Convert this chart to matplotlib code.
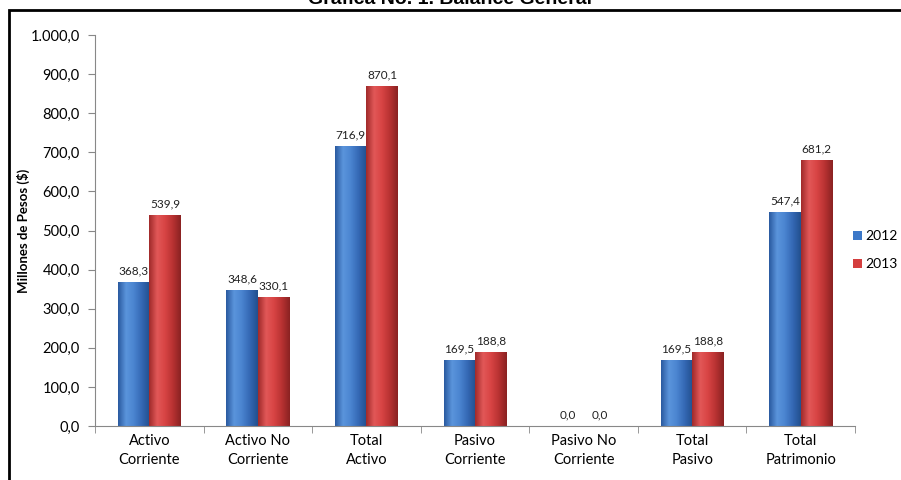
import matplotlib.pyplot as plt
import numpy as np
from matplotlib.patches import Rectangle
from matplotlib.colors import LinearSegmentedColormap

categorias = ['Activo\nCorriente', 'Activo No\nCorriente', 'Total\nActivo', 'Pasivo\nCorriente',
              'Pasivo No\nCorriente', 'Total\nPasivo', 'Total\nPatrimonio']
valores_2012 = [368.3, 348.6, 716.9, 169.5, 0.0, 169.5, 547.4]
valores_2013 = [539.9, 330.1, 870.1, 188.8, 0.0, 188.8, 681.2]
anios = ['2012', '2013']

plt.rcParams['font.family'] = ['Lato', 'DejaVu Sans']

fig = plt.figure(figsize=(9.01, 4.8), dpi=100)
ax = fig.add_axes([95/901, 1 - 426/480, 760/901, 391/480])

x = np.arange(len(categorias))
w = 0.29

blue_cmap = LinearSegmentedColormap.from_list('b', ['#2a5aa0', '#5b95dc', '#4a84d0', '#3468b4', '#22508e'])
red_cmap = LinearSegmentedColormap.from_list('r', ['#a02a2a', '#e25858', '#d84444', '#b83232', '#8a2222'])

b1 = ax.bar(x - w/2, valores_2012, w, color='#3c78c8', edgecolor='none', label=anios[0])
b2 = ax.bar(x + w/2, valores_2013, w, color='#d43e3e', edgecolor='none', label=anios[1])

# degradado horizontal dentro de cada barra
grad = np.linspace(0, 1, 64).reshape(1, -1)
for bars, cm in ((b1, blue_cmap), (b2, red_cmap)):
    for p in bars:
        if p.get_height() <= 0:
            continue
        x0, y0 = p.get_x(), p.get_y()
        im = ax.imshow(grad, cmap=cm, aspect='auto', extent=(x0, x0 + p.get_width(), y0, y0 + p.get_height()),
                       zorder=2, interpolation='bicubic')
        im.set_clip_path(p)

for bars in (b1, b2):
    for p in bars:
        h = p.get_height()
        ax.text(p.get_x() + p.get_width()/2, h + 14,
                f'{h:,.1f}'.replace('.', ','), ha='center', va='bottom', fontsize=8.5, color='#222222')

ax.set_xlim(-0.5, len(categorias) - 0.5)
ax.set_ylim(0, 1000)
ax.set_yticks(np.arange(0, 1001, 100))
ax.set_yticklabels([f'{v:,.1f}'.replace(',', 'X').replace('.', ',').replace('X', '.') for v in range(0, 1001, 100)])
ax.set_xticks(x)
ax.set_xticklabels(categorias, fontsize=10.5, linespacing=1.45)
ax.set_xticks(np.arange(-0.5, len(categorias)), minor=True)
ax.tick_params(axis='x', which='major', length=0, pad=6)
ax.tick_params(axis='x', which='minor', length=5, color='#888888')
ax.tick_params(axis='y', length=5, color='#888888', labelsize=10.5, pad=6)
for s in ('top', 'right'):
    ax.spines[s].set_visible(False)
ax.spines['left'].set_color('#888888')
ax.spines['bottom'].set_color('#888888')

ax.set_ylabel('Millones de Pesos ($)', fontsize=9.5, fontweight='bold')
ax.yaxis.set_label_coords(-0.086, 0.5)

ax.legend(loc='center left', bbox_to_anchor=(0.998, 0.45), frameon=False, fontsize=10,
          handlelength=0.6, handleheight=0.6, handletextpad=0.25, labelspacing=1.15,
          borderpad=0, borderaxespad=0)

fig.patches.append(Rectangle((9/901, -0.1), 1.2, 1 - 10/480 + 0.1, transform=fig.transFigure,
                             fill=False, edgecolor='black', linewidth=2))
fig.text(0.5, 1 - 8/480, 'Grafica No. 1. Balance General', ha='center', va='bottom',
         fontsize=14, fontweight='bold', family=['Liberation Sans', 'DejaVu Sans'])

fig.savefig('out.png', dpi=100)
